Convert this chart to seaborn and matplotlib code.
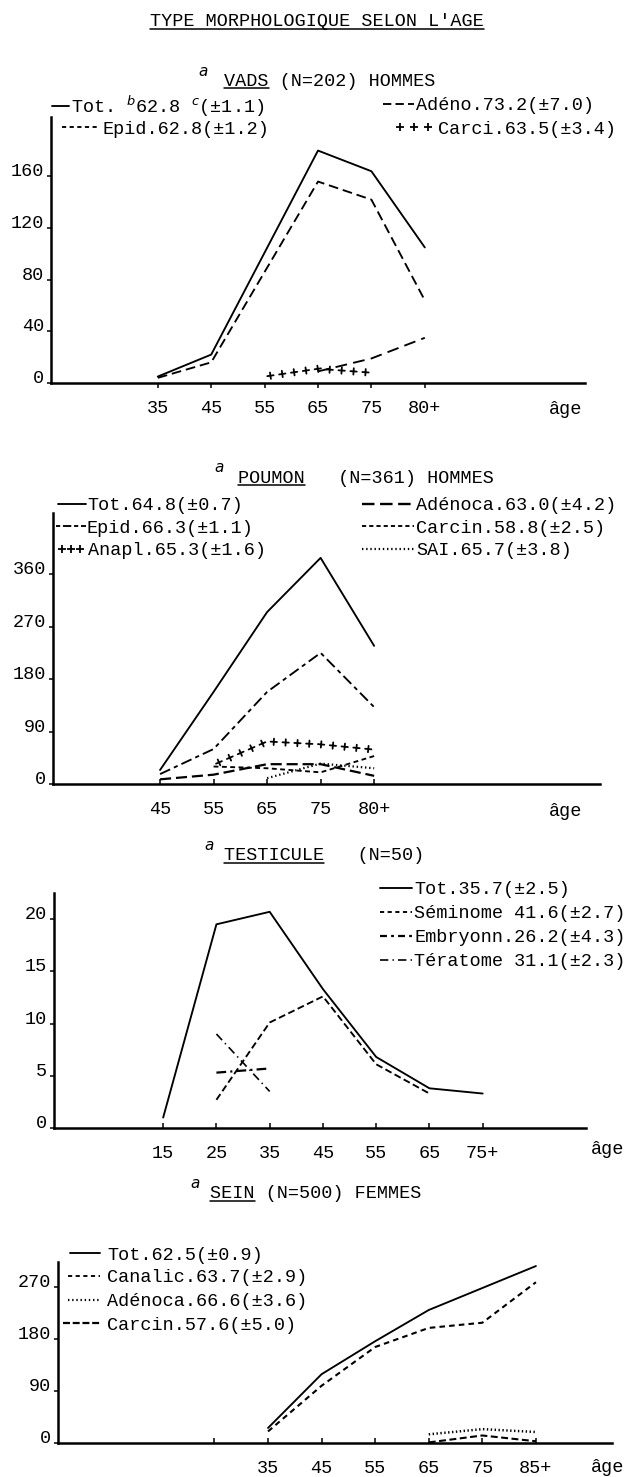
import numpy as np
import pandas as pd
import matplotlib
matplotlib.use("Agg")
import matplotlib.pyplot as plt
import seaborn as sns
from matplotlib.lines import Line2D
from matplotlib import patheffects as pe

# ---------------- data ----------------
title_main = "TYPE MORPHOLOGIQUE SELON L'AGE"

vads_ages = ["35", "45", "55", "65", "75", "80+"]
vads_tot = [5, 22, 101, 180, 164, 105]
vads_epid = [4, 16, 86, 156, 142, 64]
vads_adeno = [None, None, None, 9, 19, 35]
vads_carci = [None, None, 5, 11, 8, None]
vads_yticks = [0, 40, 80, 120, 160]
vads_labels = [r"Tot. $^{b}$62.8 $^{c}$(±1.1)", "Epid.62.8(±1.2)",
               "Adéno.73.2(±7.0)", "Carci.63.5(±3.4)"]

poumon_ages = ["45", "55", "65", "75", "80+"]
poumon_tot = [24, 158, 295, 388, 237]
poumon_epid = [17, 60, 158, 225, 132]
poumon_anapl = [None, 33, 73, 68, 59]
poumon_adenoca = [8, 16, 34, 34, 14]
poumon_carcin = [None, 30, 27, 20, 48]
poumon_sai = [None, None, 10, 35, 27]
poumon_yticks = [0, 90, 180, 270, 360]
poumon_labels = ["Tot.64.8(±0.7)", "Epid.66.3(±1.1)", "Anapl.65.3(±1.6)",
                 "Adénoca.63.0(±4.2)", "Carcin.58.8(±2.5)", "SAI.65.7(±3.8)"]

testi_ages = ["15", "25", "35", "45", "55", "65", "75+"]
testi_tot = [1.0, 19.5, 20.7, 13.3, 6.8, 3.8, 3.3]
testi_semi = [None, 2.7, 10.1, 12.6, 6.1, 3.3, None]
testi_embr = [None, 5.3, 5.7, None, None, None, None]
testi_terat = [None, 9.0, 3.5, None, None, None, None]
testi_yticks = [0, 5, 10, 15, 20]
testi_labels = ["Tot.35.7(±2.5)", "Séminome 41.6(±2.7)",
                "Embryonn.26.2(±4.3)", "Tératome 31.1(±2.3)"]

sein_ages = ["35", "45", "55", "65", "75", "85+"]
sein_tot = [26, 119, 176, 230, 268, 306]
sein_canalic = [20, 99, 166, 199, 208, 278]
sein_adenoca = [None, None, None, 15, 24, 19]
sein_carcin = [None, None, None, 1, 13, 3]
sein_yticks = [0, 90, 180, 270]
sein_labels = ["Tot.62.5(±0.9)", "Canalic.63.7(±2.9)",
               "Adénoca.66.6(±3.6)", "Carcin.57.6(±5.0)"]

subtitles = [("VADS", " (N=202) HOMMES"), ("POUMON", "   (N=361) HOMMES"),
             ("TESTICULE", "   (N=50)"), ("SEIN", " (N=500) FEMMES")]
xlabel_text = "âge"

# ---------------- style ----------------
sns.set_theme(style="ticks")
MONO = "Liberation Mono"
plt.rcParams["font.family"] = [MONO, "DejaVu Sans"]
plt.rcParams["mathtext.fontset"] = "custom"
plt.rcParams["mathtext.rm"] = MONO
plt.rcParams["mathtext.it"] = "DejaVu Sans:italic"
plt.rcParams["lines.scale_dashes"] = False
for k in ["text.color", "axes.edgecolor", "xtick.color", "ytick.color", "axes.labelcolor"]:
    plt.rcParams[k] = "black"

W, H, DPI = 626, 1477, 100
FS = 13.3
LW = 1.35
fig = plt.figure(figsize=(W / DPI, H / DPI), dpi=DPI)
fig.patch.set_facecolor("white")


def fx(x):
    return x / W


def fy(y):
    return 1 - y / H


def rect(left, top, right, bottom):
    return [left / W, 1 - bottom / H, (right - left) / W, (bottom - top) / H]


def plus_fx(sp=8.5, arm=0.27):
    return [pe.TickedStroke(spacing=sp, angle=a, length=arm) for a in (0, 90, 180, -90)]


def series(ax, cats, values, **style):
    df = pd.DataFrame({"pos": np.arange(len(cats)),
                       "val": pd.Series(values, dtype=float)}).dropna()
    sns.lineplot(data=df, x="pos", y="val", ax=ax, color="black",
                 errorbar=None, sort=False, legend=False, **style)


def setup(ax, cats, yticks, xlim, ylim, xdir="in", extra_left_tick=False):
    ax.set_xlim(*xlim)
    ax.set_ylim(*ylim)
    pos = list(range(len(cats)))
    labs = list(cats)
    if extra_left_tick:
        pos = [-1] + pos
        labs = [""] + labs
    ax.set_xticks(pos, labels=labs)
    ax.set_yticks(yticks, labels=[str(v) for v in yticks])
    ax.set_xlabel("")
    ax.set_ylabel("")
    sns.despine(ax=ax)
    for s in ("left", "bottom"):
        ax.spines[s].set_linewidth(1.8)
    xpad = 9 if xdir == "out" else 12
    ax.tick_params(axis="x", direction=xdir, length=3.5, width=1.1, pad=xpad, labelsize=FS)
    ax.tick_params(axis="y", direction="out", length=3, width=1.1, pad=2, labelsize=FS)
    for lab in ax.get_yticklabels():
        lab.set_verticalalignment("baseline")
    ax.patch.set_alpha(0)


def key(handle, label, x0, yc, hl_px, gap_px, numpoints=1):
    fs_px = FS * DPI / 72
    fig.legend(handles=[handle], labels=[label], loc="center left",
               bbox_to_anchor=(fx(x0), fy(yc)), bbox_transform=fig.transFigure,
               frameon=False, borderpad=0, borderaxespad=0,
               handlelength=hl_px / fs_px, handletextpad=gap_px / fs_px,
               numpoints=numpoints, prop={"family": MONO, "size": FS})


def h(ls="-", lw=LW):
    return Line2D([0], [0], color="black", linestyle=ls, linewidth=lw)


PLUS_H = Line2D([0], [0], color="black", marker="+", linestyle="None", markersize=6, markeredgewidth=1.3)

S_TOT = dict(linestyle="-", linewidth=LW)

# ---------------- panel 1 : VADS ----------------
ax1 = fig.add_axes(rect(51, 117, 585, 383))
series(ax1, vads_ages, vads_tot, **S_TOT)
series(ax1, vads_ages, vads_epid, linestyle=(0, (7, 3.5)), linewidth=LW)
series(ax1, vads_ages, vads_adeno, linestyle=(0, (8.5, 4.5)), linewidth=LW)
series(ax1, vads_ages, vads_carci, linestyle="-", linewidth=1.3, path_effects=plus_fx())
setup(ax1, vads_ages, vads_yticks, (-2, 8), (0, 206), xdir="out")
key(h("-"), vads_labels[0], 52, 106, 17, 2)
key(h((0, (3, 2.5))), vads_labels[1], 62, 129, 38, 2)
key(h((0, (6, 3))), vads_labels[2], 383, 106, 31, 2)
key(PLUS_H, vads_labels[3], 394, 129, 40, 4, numpoints=3)

# ---------------- panel 2 : POUMON ----------------
ax2 = fig.add_axes(rect(53, 513, 600, 784))
series(ax2, poumon_ages, poumon_tot, **S_TOT)
series(ax2, poumon_ages, poumon_epid, linestyle=(0, (8, 3, 3, 3)), linewidth=LW)
series(ax2, poumon_ages, poumon_anapl, linestyle="-", linewidth=1.3, path_effects=plus_fx())
series(ax2, poumon_ages, poumon_adenoca, linestyle=(0, (8, 3.5)), linewidth=1.6)
series(ax2, poumon_ages, poumon_carcin, linestyle=(0, (3.5, 2.5)), linewidth=LW)
series(ax2, poumon_ages, poumon_sai, linestyle=(0, (1, 2)), linewidth=1.6)
setup(ax2, poumon_ages, poumon_yticks, (-2.0, 8.22), (0, 465))
key(h("-"), poumon_labels[0], 58, 506, 28, 1)
key(h((0, (3, 2, 6, 2))), poumon_labels[1], 56, 528, 30, 1)
key(PLUS_H, poumon_labels[2], 56, 551, 30, 2, numpoints=3)
key(h((0, (9, 4)), 1.7), poumon_labels[3], 362, 506, 52, 2)
key(h((0, (3, 2.2))), poumon_labels[4], 362, 528, 52, 2)
key(h((0, (1, 2)), 1.6), poumon_labels[5], 362, 551, 52, 2)

# ---------------- panel 3 : TESTICULE ----------------
ax3 = fig.add_axes(rect(54, 893, 586, 1128))
series(ax3, testi_ages, testi_tot, **S_TOT)
series(ax3, testi_ages, testi_semi, linestyle=(0, (5, 2.5)), linewidth=LW)
series(ax3, testi_ages, testi_embr, linestyle=(0, (7, 3, 1.5, 3)), linewidth=1.6)
series(ax3, testi_ages, testi_terat, linestyle=(0, (6, 3, 1, 3)), linewidth=1.2)
setup(ax3, testi_ages, testi_yticks, (-2.05, 7.94), (0, 22.5))
key(h("-"), testi_labels[0], 380, 890, 32, 2)
key(h((0, (3, 2.5))), testi_labels[1], 380, 914, 32, 2)
key(h((0, (5, 3, 2, 3)), 1.6), testi_labels[2], 380, 938, 32, 2)
key(h((0, (6, 3, 1, 3)), 1.2), testi_labels[3], 380, 962, 32, 2)

# ---------------- panel 4 : SEIN ----------------
ax4 = fig.add_axes(rect(58, 1262, 612, 1443))
series(ax4, sein_ages, sein_tot, **S_TOT)
series(ax4, sein_ages, sein_canalic, linestyle=(0, (4, 3)), linewidth=1.5)
series(ax4, sein_ages, sein_adenoca, linestyle=(0, (1, 1.8)), linewidth=1.8)
series(ax4, sein_ages, sein_carcin, linestyle=(0, (5, 2.5)), linewidth=1.5)
setup(ax4, sein_ages, sein_yticks, (-3.92, 6.42), (0, 313), extra_left_tick=True)
key(h("-"), sein_labels[0], 70, 1255, 30, 7)
key(h((0, (3, 2.5))), sein_labels[1], 68, 1278, 32, 7)
key(h((0, (1, 2)), 1.6), sein_labels[2], 68, 1302, 32, 7)
key(h((0, (5, 2)), 1.6), sein_labels[3], 63, 1325, 37, 7)

# ---------------- titles & texts ----------------
t_main = fig.text(fx(317), fy(22), title_main, ha="center", va="center", fontsize=FS, family=MONO)
sub_pos = [(198, 71, 224, 81), (214, 468, 238, 478), (204, 846, 224, 856), (190, 1184, 210, 1194)]
sub_texts = []
for (word, rest), (ax_, ay_, tx_, ty_) in zip(subtitles, sub_pos):
    fig.text(fx(ax_), fy(ay_), "a", ha="left", va="center", fontsize=11,
             family="DejaVu Sans", style="italic")
    t = fig.text(fx(tx_), fy(ty_), word + rest, ha="left", va="center", fontsize=FS, family=MONO)
    sub_texts.append((t, len(word)))

for xx, yy in [(566, 410), (566, 812), (608, 1150), (608, 1467)]:
    fig.text(fx(xx), fy(yy), xlabel_text, ha="center", va="center", fontsize=FS, family=MONO)

# underlines
fig.canvas.draw()
r = fig.canvas.get_renderer()


def underline(t, n=None, dy=2.0):
    bb = t.get_window_extent(r)
    s = t.get_text()
    n = len(s) if n is None else n
    x0 = bb.x0
    x1 = bb.x0 + bb.width * n / len(s)
    y = bb.y0 + dy
    fig.add_artist(Line2D([x0 / W, x1 / W], [y / H, y / H], transform=fig.transFigure,
                          color="black", linewidth=1.1))


underline(t_main)
for t, n in sub_texts:
    underline(t, n)

fig.savefig("out.png", dpi=DPI, facecolor="white")
